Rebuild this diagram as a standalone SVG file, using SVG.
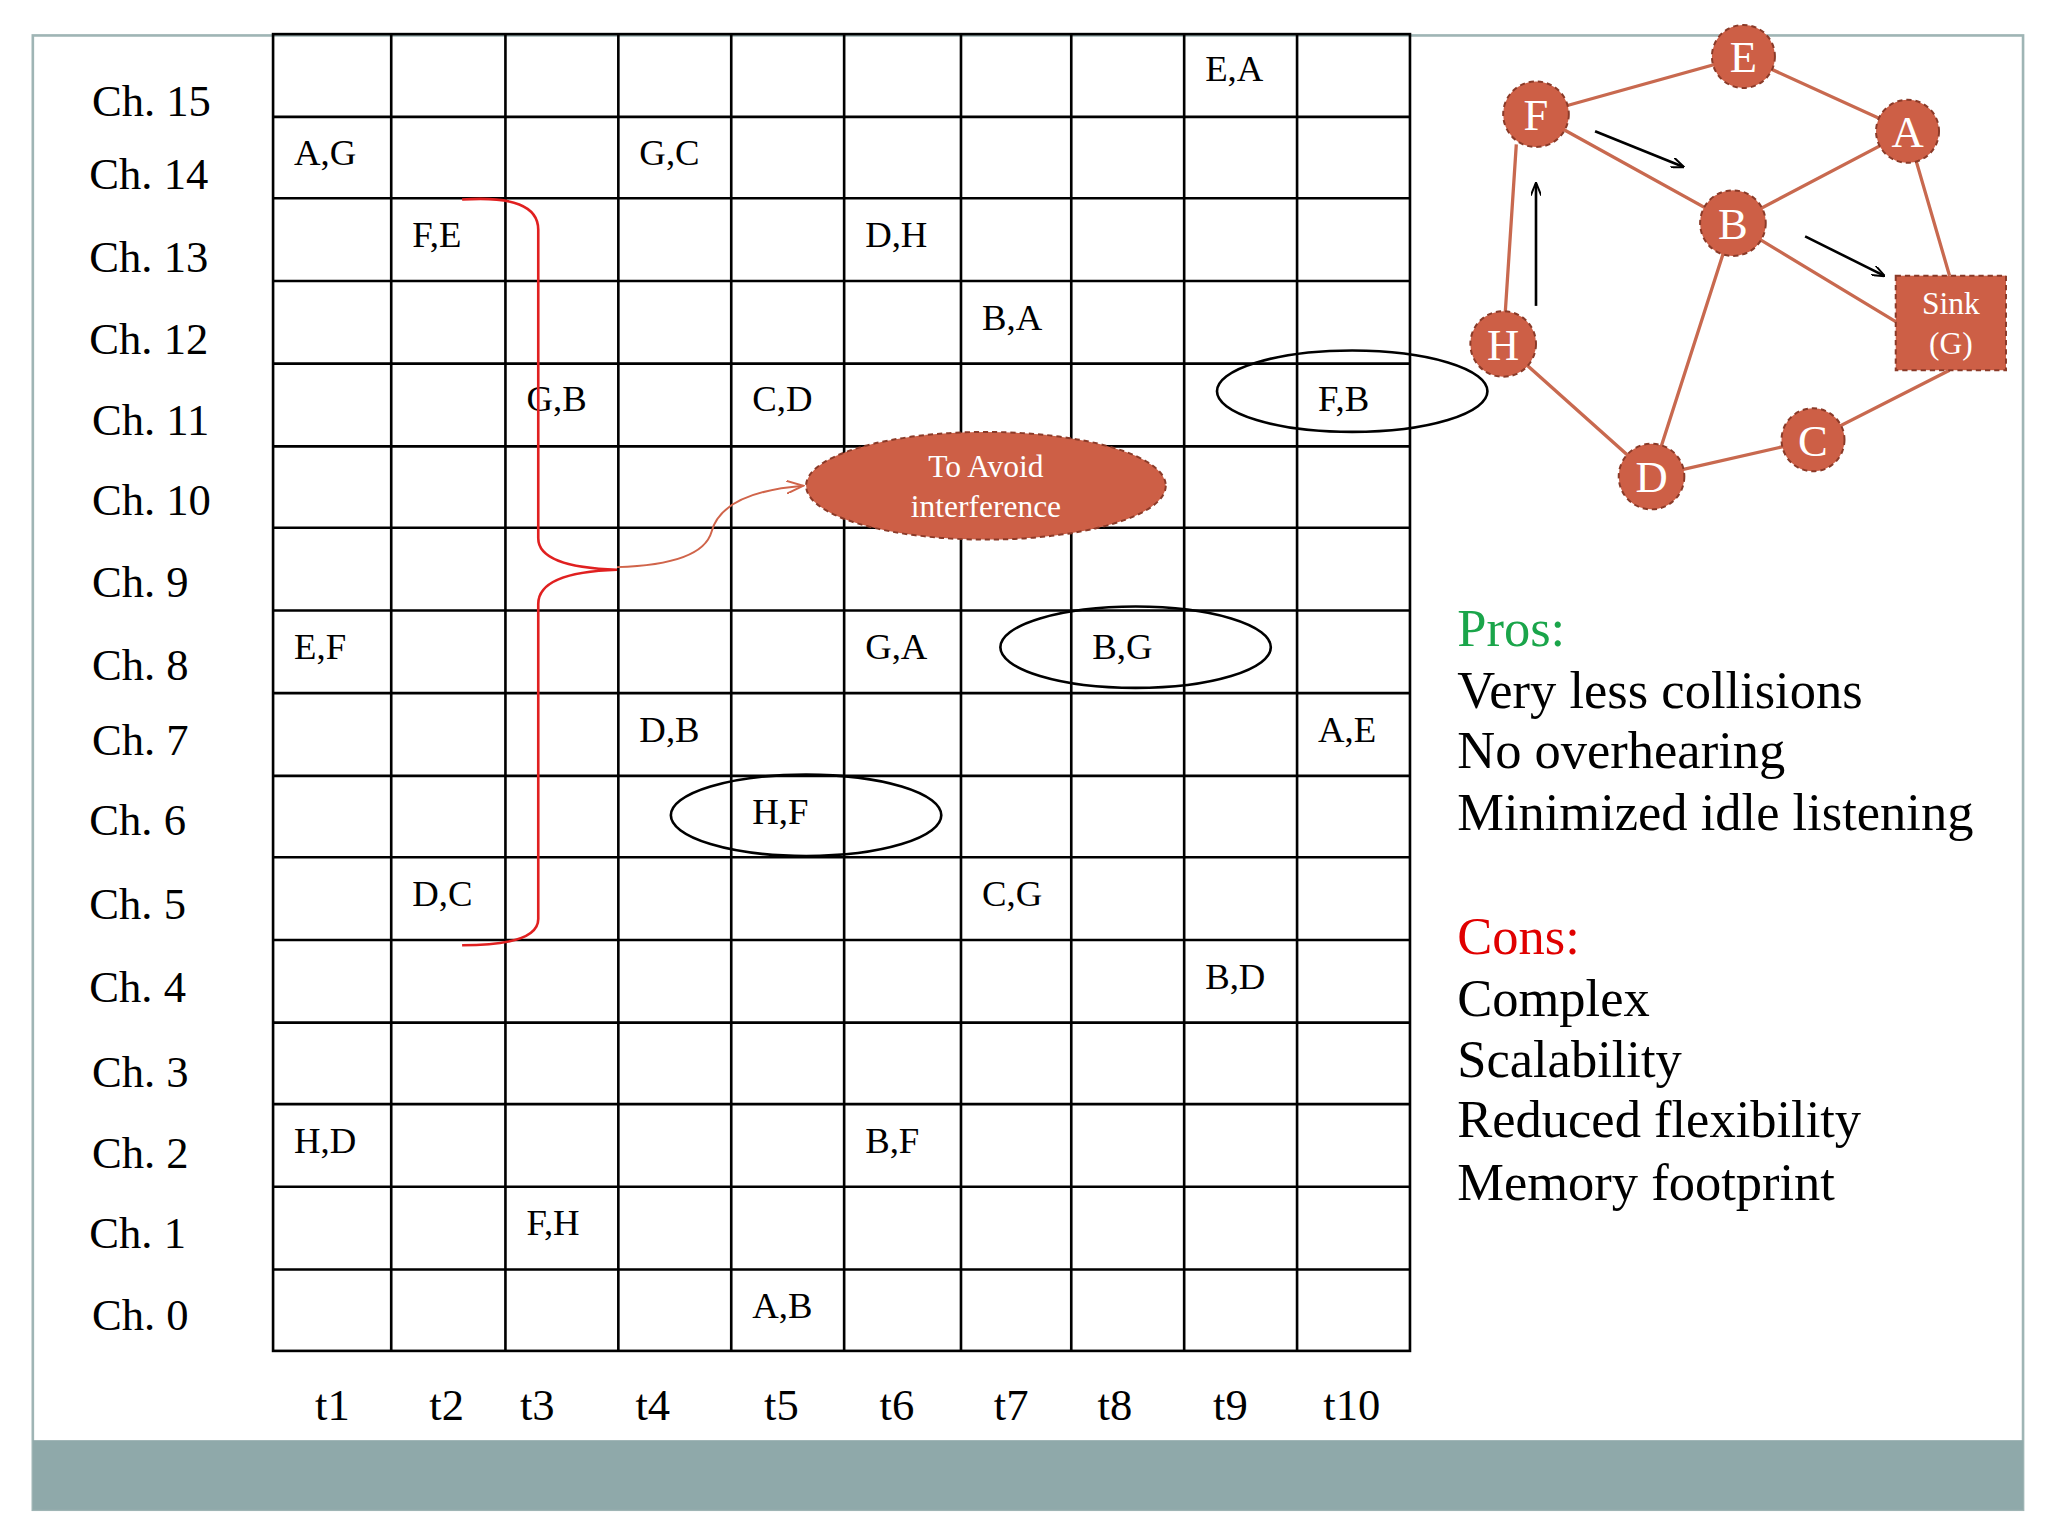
<svg xmlns="http://www.w3.org/2000/svg" width="2048" height="1536" viewBox="0 0 2048 1536">
<style>
.g{stroke:#000;stroke-width:2;fill:none}
.ch{font-family:"Liberation Serif",serif;font-size:34px}
.c{font-family:"Liberation Serif",serif;font-size:28px}
.n{fill:#cd5f46;stroke:#8a3a28;stroke-width:1.5;stroke-dasharray:4 3}
.nt{font-family:"Liberation Serif",serif;font-size:34px;fill:#fff;text-anchor:middle}
.st{font-size:24px}
.e{stroke:#c8694f;stroke-width:2.5;fill:none}
.t{font-family:"Liberation Serif",serif;font-size:40px}
</style>
<defs>
<marker id="ab" markerWidth="10" markerHeight="8" refX="9" refY="4" orient="auto" markerUnits="userSpaceOnUse"><path d="M0,0 L10,4 L0,8" fill="none" stroke="#000" stroke-width="1.5"/></marker>
<marker id="ao" markerWidth="14" markerHeight="10" refX="13" refY="5" orient="auto" markerUnits="userSpaceOnUse"><path d="M0,0 L13,5 L0,10" fill="none" stroke="#d0644a" stroke-width="1.5"/></marker>
</defs>
<rect width="2048" height="1536" fill="#fff"/>
<g transform="scale(1.312821)">
<rect x="25" y="27" width="1516" height="1123" fill="none" stroke="#9fb5b5" stroke-width="2"/>
<rect x="25" y="1097" width="1516" height="53" fill="#8fa9aa"/>
<g id="grid" class="g">
<rect x="208" y="26" width="866" height="1003"/>
<path d="M298,26V1029M385,26V1029M471,26V1029M557,26V1029M643,26V1029M732,26V1029M816,26V1029M902,26V1029M988,26V1029"/>
<path d="M208,89H1074M208,151H1074M208,214H1074M208,277H1074M208,340H1074M208,402H1074M208,465H1074M208,528H1074M208,591H1074M208,653H1074M208,716H1074M208,779H1074M208,841H1074M208,904H1074M208,967H1074"/>
</g>
<g id="chlabels" class="ch">
<text x="70" y="88">Ch. 15</text><text x="68" y="144">Ch. 14</text><text x="68" y="207">Ch. 13</text><text x="68" y="270">Ch. 12</text>
<text x="70" y="331">Ch. 11</text><text x="70" y="392">Ch. 10</text><text x="70" y="455">Ch. 9</text><text x="70" y="518">Ch. 8</text>
<text x="70" y="575">Ch. 7</text><text x="68" y="636">Ch. 6</text><text x="68" y="700">Ch. 5</text><text x="68" y="763">Ch. 4</text>
<text x="70" y="828">Ch. 3</text><text x="70" y="890">Ch. 2</text><text x="68" y="951">Ch. 1</text><text x="70" y="1013">Ch. 0</text>
</g>
<g id="tlabels" class="ch">
<text x="240" y="1082">t1</text><text x="327" y="1082">t2</text><text x="396" y="1082">t3</text><text x="484" y="1082">t4</text><text x="582" y="1082">t5</text>
<text x="670" y="1082">t6</text><text x="757" y="1082">t7</text><text x="836" y="1082">t8</text><text x="924" y="1082">t9</text><text x="1008" y="1082">t10</text>
</g>
<g id="cells" class="c">
<text x="918" y="62">E,A</text><text x="224" y="126">A,G</text><text x="487" y="126">G,C</text>
<text x="314" y="188">F,E</text><text x="659" y="188">D,H</text><text x="748" y="251">B,A</text>
<text x="401" y="313">G,B</text><text x="573" y="313">C,D</text><text x="1004" y="313">F,B</text>
<text x="224" y="502">E,F</text><text x="659" y="502">G,A</text><text x="832" y="502">B,G</text>
<text x="487" y="565">D,B</text><text x="1004" y="565">A,E</text><text x="573" y="628">H,F</text>
<text x="314" y="690">D,C</text><text x="748" y="690">C,G</text><text x="918" y="753">B,D</text>
<text x="224" y="878">H,D</text><text x="659" y="878">B,F</text><text x="401" y="941">F,H</text><text x="573" y="1004">A,B</text>
</g>
<g id="ellipses" fill="none" stroke="#000" stroke-width="2">
<ellipse cx="1030" cy="298" rx="103" ry="31"/>
<ellipse cx="865" cy="493" rx="103" ry="31"/>
<ellipse cx="614" cy="621" rx="103" ry="31"/>
</g>
<g id="brace">
<path d="M352,152 Q410,148 410,175 V410 Q410,432 470,434 Q410,436 410,460 V700 Q410,720 352,720" fill="none" stroke="#e02020" stroke-width="2"/>
</g>
<g id="connectors">
<path d="M470,432 Q535,430 542,405 Q550,375 612,370" fill="none" stroke="#d0644a" stroke-width="1.5" marker-end="url(#ao)"/>
<path class="e" d="M1170,87L1328,43L1453,100M1170,87L1320,170L1453,100L1485,210M1320,170L1444,245M1155,110L1145,262L1258,363L1320,170M1258,363L1381,335L1485,282"/>
<g stroke="#000" stroke-width="2" fill="none" marker-end="url(#ab)">
<path d="M1215,100L1282,127"/><path d="M1375,180L1435,210"/><path d="M1170,233L1170,140"/>
</g>
</g>
<g id="avoid"><ellipse cx="751" cy="370" rx="137" ry="41" class="n"/><text x="751" y="363" class="nt st">To Avoid</text><text x="751" y="394" class="nt st">interference</text></g>
<g id="nE"><circle cx="1328" cy="43" r="24" class="n"/><text x="1328" y="55" class="nt">E</text></g>
<g id="nF"><circle cx="1170" cy="87" r="25" class="n"/><text x="1170" y="99" class="nt">F</text></g>
<g id="nA"><circle cx="1453" cy="100" r="24" class="n"/><text x="1453" y="112" class="nt">A</text></g>
<g id="nB"><circle cx="1320" cy="170" r="25" class="n"/><text x="1320" y="182" class="nt">B</text></g>
<g id="nH"><circle cx="1145" cy="262" r="25" class="n"/><text x="1145" y="274" class="nt">H</text></g>
<g id="nD"><circle cx="1258" cy="363" r="25" class="n"/><text x="1258" y="375" class="nt">D</text></g>
<g id="nC"><circle cx="1381" cy="335" r="24" class="n"/><text x="1381" y="347" class="nt">C</text></g>
<g id="nSink"><rect x="1444" y="210" width="84" height="72" class="n"/><text x="1486" y="239" class="nt st">Sink</text><text x="1486" y="270" class="nt st">(G)</text></g>
<g id="text" class="t">
<text x="1110" y="492" fill="#1aa54a">Pros:</text>
<text x="1110" y="539">Very less collisions</text><text x="1110" y="585">No overhearing</text><text x="1110" y="632">Minimized idle listening</text>
<text x="1110" y="727" fill="#e00000">Cons:</text>
<text x="1110" y="774">Complex</text><text x="1110" y="820">Scalability</text><text x="1110" y="866">Reduced flexibility</text><text x="1110" y="914">Memory footprint</text>
</g>
</g>
</svg>
